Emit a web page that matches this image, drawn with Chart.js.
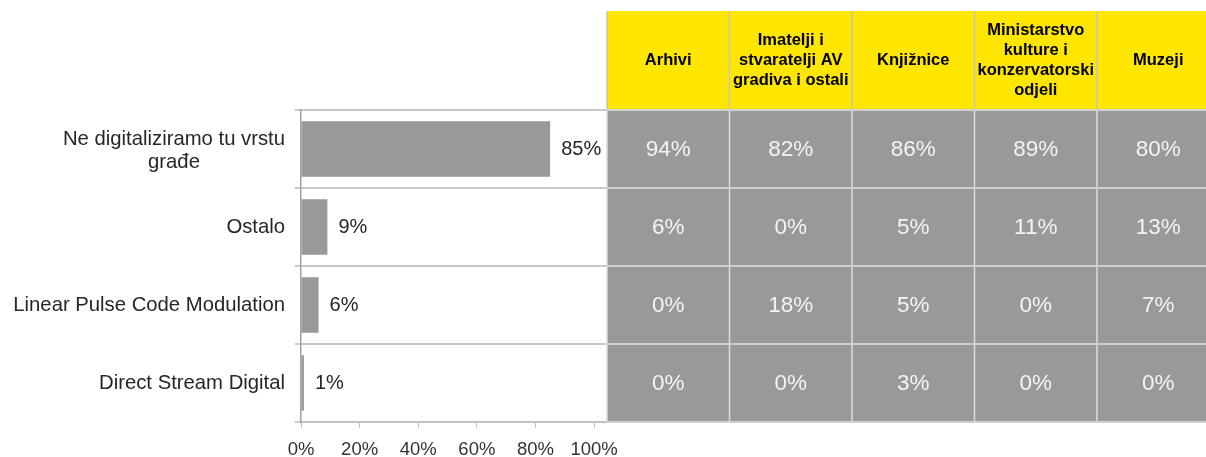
<!DOCTYPE html>
<html>
<head>
<meta charset="utf-8">
<script src="https://cdn.jsdelivr.net/npm/chart.js@4.4.1/dist/chart.umd.min.js"></script>
<style>
  html, body { margin: 0; padding: 0; background: #fff; }
  #wrap { position: relative; width: 1206px; height: 457px; }
</style>
</head>
<body>
<div id="wrap"><canvas id="digiChart"></canvas></div>
<script>
const categories = [['Ne digitaliziramo tu vrstu', 'građe'], 'Ostalo', 'Linear Pulse Code Modulation', 'Direct Stream Digital'];
const ukupno = [85, 9, 6, 1];
const xTicks = [0, 20, 40, 60, 80, 100];

const columnHeaders = [
    ['Arhivi'],
    ['Imatelji i', 'stvaratelji AV', 'gradiva i ostali'],
    ['Knjižnice'],
    ['Ministarstvo', 'kulture i', 'konzervatorski', 'odjeli'],
    ['Muzeji']
];
const arhivi = [94, 6, 0, 0];
const imatelji = [82, 0, 18, 0];
const knjiznice = [86, 5, 5, 3];
const ministarstvo = [89, 11, 0, 0];
const muzeji = [80, 13, 7, 0];
const tableColumns = [arhivi, imatelji, knjiznice, ministarstvo, muzeji];

const FONT = "'Liberation Sans', Arial, sans-serif";
// table column edges in px (last one runs past the canvas edge)
const colEdges = [607, 729.5, 852, 974.5, 1097, 1219.5];
const headerTop = 11;

// category labels: each label right-aligned as a block, lines centred inside it
const yLabels = {
    id: 'yLabels',
    afterDraw(chart) {
        const { ctx, scales: { y } } = chart;
        ctx.save();
        ctx.font = '20.3px ' + FONT;
        ctx.fillStyle = '#262626';
        ctx.textAlign = 'center';
        ctx.textBaseline = 'middle';
        categories.forEach((label, i) => {
            const lines = Array.isArray(label) ? label : [label];
            const w = Math.max(...lines.map(l => ctx.measureText(l).width));
            const cx = 285 - w / 2;
            const cy = y.getPixelForValue(i) + (lines.length > 1 ? 2 : 0);
            lines.forEach((line, k) => {
                ctx.fillText(line, cx, cy + (k - (lines.length - 1) / 2) * 23);
            });
        });
        ctx.restore();
    }
};

const barValues = {
    id: 'barValues',
    afterDatasetsDraw(chart) {
        const { ctx } = chart;
        ctx.save();
        ctx.font = '20px ' + FONT;
        ctx.fillStyle = '#262626';
        ctx.textAlign = 'left';
        ctx.textBaseline = 'middle';
        chart.getDatasetMeta(0).data.forEach((bar, i) => {
            ctx.fillText(ukupno[i] + '%', bar.x + 11, bar.y);
        });
        ctx.restore();
    }
};

// the yellow-header table on the right, rows taken from the y scale
const sideTable = {
    id: 'sideTable',
    afterDraw(chart) {
        const { ctx, scales: { y } } = chart;
        const half = (y.getPixelForValue(1) - y.getPixelForValue(0)) / 2;
        const top = y.getPixelForValue(0) - half;
        const bottom = y.getPixelForValue(categories.length - 1) + half;
        const left = colEdges[0], right = colEdges[colEdges.length - 1];
        ctx.save();

        // header
        ctx.fillStyle = '#ffe600';
        ctx.fillRect(left, headerTop, right - left, top - headerTop);
        ctx.fillStyle = '#000';
        ctx.font = 'bold 16.5px ' + FONT;
        ctx.textAlign = 'center';
        ctx.textBaseline = 'middle';
        const hMid = (headerTop + top) / 2;
        columnHeaders.forEach((lines, c) => {
            const cx = (colEdges[c] + colEdges[c + 1]) / 2;
            lines.forEach((line, k) => {
                ctx.fillText(line, cx, hMid + (k - (lines.length - 1) / 2) * 20);
            });
        });

        // body
        ctx.fillStyle = '#999999';
        ctx.fillRect(left, top, right - left, bottom - top);
        ctx.fillStyle = '#f4f4f4';
        ctx.font = '22.5px ' + FONT;
        tableColumns.forEach((col, c) => {
            const cx = (colEdges[c] + colEdges[c + 1]) / 2;
            col.forEach((v, r) => {
                ctx.fillText(v + '%', cx, y.getPixelForValue(r) + 1);
            });
        });

        // borders
        ctx.lineWidth = 1.5;
        ctx.strokeStyle = '#c4c4c4';
        colEdges.forEach(x => {
            ctx.beginPath();
            ctx.moveTo(x, headerTop);
            ctx.lineTo(x, top);
            ctx.stroke();
        });
        ctx.strokeStyle = '#dcdcdc';
        colEdges.forEach(x => {
            ctx.beginPath();
            ctx.moveTo(x, top);
            ctx.lineTo(x, bottom);
            ctx.stroke();
        });
        ctx.lineWidth = 2;
        ctx.strokeStyle = '#d0d0d0';
        for (let r = 0; r <= categories.length; r++) {
            const yy = top + r * half * 2;
            ctx.beginPath();
            ctx.moveTo(left, yy);
            ctx.lineTo(right, yy);
            ctx.stroke();
        }
        ctx.restore();
    }
};

new Chart(document.getElementById('digiChart'), {
    type: 'bar',
    data: {
        labels: categories,
        datasets: [{
            data: ukupno,
            backgroundColor: '#999999',
            barPercentage: 0.71,
            categoryPercentage: 1
        }]
    },
    options: {
        indexAxis: 'y',
        responsive: true,
        maintainAspectRatio: false,
        animation: false,
        layout: { padding: { left: 0, right: 599, top: 110, bottom: 0 } },
        plugins: {
            legend: { display: false },
            tooltip: { enabled: false }
        },
        scales: {
            x: {
                min: 0,
                max: 104.4,
                afterBuildTicks: s => { s.ticks = xTicks.map(v => ({ value: v })); },
                afterFit: s => { s.height = 35; },
                grid: { drawOnChartArea: false, drawTicks: true, tickLength: 6, color: '#bfbfbf' },
                border: { color: '#bfbfbf', width: 1.5 },
                ticks: {
                    callback: v => v + '%',
                    font: { size: 18.5, family: FONT },
                    color: '#333333',
                    padding: 11,
                    maxRotation: 0
                }
            },
            y: {
                afterFit: s => { s.width = 301; },
                grid: { color: '#c8c8c8', lineWidth: 2, tickLength: 6, offset: true },
                border: { color: '#a0a0a0', width: 1.5 },
                ticks: { display: false }
            }
        }
    },
    plugins: [yLabels, barValues, sideTable]
});
</script>
</body>
</html>
